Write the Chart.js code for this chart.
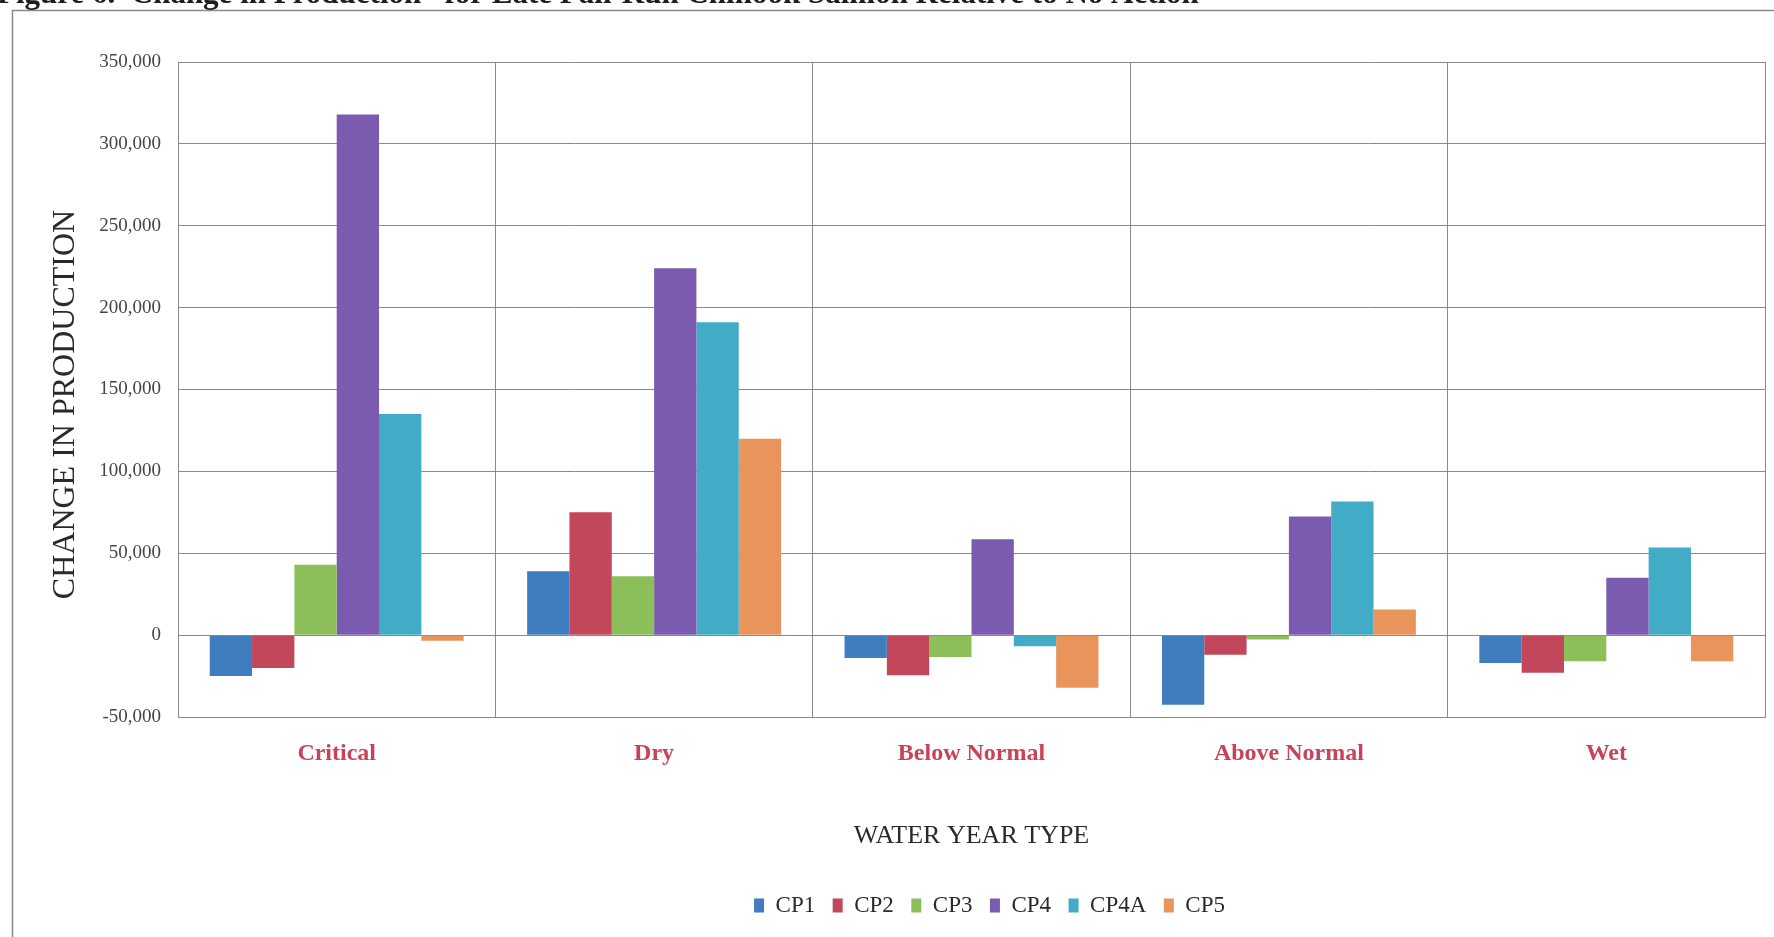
<!DOCTYPE html>
<html>
<head>
<meta charset="utf-8">
<title>Change in Production for Late Fall-Run Chinook Salmon</title>
<script src="https://cdn.jsdelivr.net/npm/chart.js@4.4.1/dist/chart.umd.min.js"></script>
<style>
  html, body { margin: 0; padding: 0; background: #ffffff; }
  #wrap { position: relative; width: 1774px; height: 937px; }
  canvas { display: block; }
</style>
</head>
<body>
<div id="wrap"><canvas id="chart" width="1774" height="937"></canvas></div>
<script>
// Water year types along the x axis
const categories = ['Critical', 'Dry', 'Below Normal', 'Above Normal', 'Wet'];

// Change in production for each scenario, one value per water year type
const seriesNames = ['CP1', 'CP2', 'CP3', 'CP4', 'CP4A', 'CP5'];
const cp1  = [-25000,  39000, -14000, -42500, -17000];
const cp2  = [-20000,  75000, -24500, -12000, -23000];
const cp3  = [ 43000,  36000, -13300,  -2700, -16000];
const cp4  = [318000, 224000,  58600,  72500,  35000];
const cp4a = [135000, 191000,  -6800,  81600,  53500];
const cp5  = [ -3500, 120000, -32200,  15700, -16000];

// Value axis range and step
const yMin = -50000;
const yMax = 350000;
const yStep = 50000;

const seriesColors = ['#3F7DBE', '#C2475A', '#8CBF5A', '#7B5BB0', '#42ABC6', '#E8945A'];
const seriesValues = [cp1, cp2, cp3, cp4, cp4a, cp5];

const SERIF = '"Liberation Serif", "Times New Roman", serif';
const yTitle = 'CHANGE IN PRODUCTION';

// Page frame and the document caption running along the top edge
const framePlugin = {
  id: 'frame',
  beforeDraw(chart) {
    const ctx = chart.ctx;
    ctx.save();
    ctx.fillStyle = '#ffffff';
    ctx.fillRect(0, 0, chart.width, chart.height);
    ctx.strokeStyle = '#8a8a8a';
    ctx.lineWidth = 1.5;
    ctx.strokeRect(12.5, 10.5, chart.width + 50, chart.height + 50);
    ctx.fillStyle = '#1e1e1e';
    ctx.font = 'bold 31px ' + SERIF;
    ctx.textBaseline = 'alphabetic';
    ctx.textAlign = 'left';
    ctx.fillText('Figure 6.  Change in Production* for Late Fall-Run Chinook Salmon Relative to No Action', -3, 3);
    ctx.restore();
  },
  // Vertical value-axis title, centred a little below the plot middle
  afterDraw(chart) {
    const ctx = chart.ctx;
    const area = chart.chartArea;
    ctx.save();
    ctx.translate(66, (area.top + area.bottom) / 2 + 15);
    ctx.rotate(-Math.PI / 2);
    ctx.fillStyle = '#2a2a2a';
    ctx.font = '32px ' + SERIF;
    ctx.textAlign = 'center';
    ctx.textBaseline = 'middle';
    ctx.fillText(yTitle, 0, 0);
    ctx.restore();
  }
};

// Moves the legend row so it sits under the plot area
const legendShift = {
  id: 'legendShift',
  afterLayout(chart) {
    const lg = chart.legend;
    if (lg) { lg.left += 100; lg.right += 100; }
  }
};

const datasets = seriesNames.map((name, i) => ({
  label: name,
  data: seriesValues[i],
  backgroundColor: seriesColors[i],
  borderWidth: 0,
  categoryPercentage: 0.8,
  barPercentage: 1.0
}));

new Chart(document.getElementById('chart'), {
  type: 'bar',
  data: { labels: categories, datasets },
  plugins: [framePlugin, legendShift],
  options: {
    responsive: false,
    animation: false,
    layout: { padding: { left: 14, right: 9, top: 62, bottom: 10 } },
    plugins: {
      legend: {
        position: 'bottom',
        labels: {
          boxWidth: 10,
          boxHeight: 14,
          padding: 17.5,
          color: '#2a2a2a',
          font: { family: SERIF, size: 23 }
        }
      },
      tooltip: { enabled: false }
    },
    scales: {
      x: {
        grid: { color: '#8a8a8a', lineWidth: 1, drawTicks: false, offset: true },
        border: { color: '#8a8a8a', width: 1 },
        ticks: {
          padding: 22,
          color: '#C8435A',
          font: { family: SERIF, size: 24, weight: 'bold' }
        },
        title: {
          display: true,
          text: 'WATER YEAR TYPE',
          color: '#2a2a2a',
          font: { family: SERIF, size: 26 },
          padding: { top: 0, bottom: 25 }
        },
        afterFit(scale) { scale.height = 159.5; }
      },
      y: {
        min: yMin,
        max: yMax,
        grid: { color: '#8a8a8a', lineWidth: 1, drawTicks: false },
        border: { color: '#8a8a8a', width: 1 },
        ticks: {
          stepSize: yStep,
          padding: 17,
          color: '#444444',
          font: { family: SERIF, size: 19 },
          callback: (v) => Number(v).toLocaleString('en-US')
        },
        afterFit(scale) { scale.width = 164; }
      }
    }
  }
});
</script>
</body>
</html>
